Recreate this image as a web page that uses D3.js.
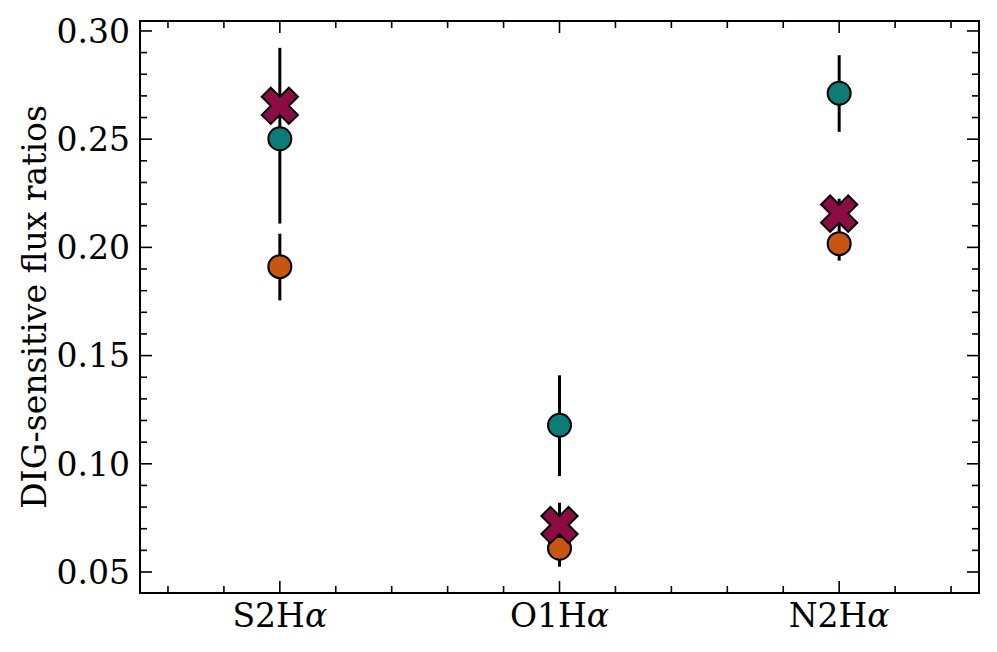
<!DOCTYPE html>
<html lang="en">
<head>
  <meta charset="UTF-8">
  <title>DIG-sensitive flux ratios</title>
  <script src="https://d3js.org/d3.v7.min.js"></script>
  <style>
    body { margin: 0; background: white; }
  </style>
</head>
<body>
  <div id="chart"></div>
  <script>
    // data
    const categories = ["S2", "O1", "N2"];

    const tealValues = [0.2502, 0.1178, 0.2712];
    const tealLow = [0.2110, 0.0943, 0.2534];
    const tealHigh = [0.2922, 0.1409, 0.2888];

    const orangeValues = [0.1911, 0.0610, 0.2017];
    const orangeLow = [0.1755, 0.0525, 0.1939];
    const orangeHigh = [0.2063, 0.0820, 0.2225];

    const crossValues = [0.2654, 0.0717, 0.2156];

    const yTicks = [0.05, 0.10, 0.15, 0.20, 0.25, 0.30];

    const width = 997;
    const height = 652;
    const margin = {top: 21, right: 18, bottom: 59, left: 140};

    const svg = d3.select("#chart")
      .append("svg")
      .attr("width", width)
      .attr("height", height);

    const x = d3.scaleLinear()
      .domain([-0.5, 2.5])
      .range([margin.left, width - margin.right]);

    const y = d3.scaleLinear()
      .domain([0.0403, 0.3046])
      .range([height - margin.bottom, margin.top]);

    const font = "DejaVu Serif, serif";
    const majorLen = 12, minorLen = 7;

    // ticks, pointing inward, on all four sides
    const yMinor = d3.range(5, 31).map(d => d / 100).filter(d => Math.round(d * 100) % 5 != 0);
    const xMinor = d3.range(-2, 13).map(d => d / 5).filter(d => Math.abs(d - Math.round(d)) > 1e-6);
    const xMajor = categories.map((c, i) => i);

    const ticks = svg.append("g").attr("stroke", "black").attr("stroke-width", 1.6);
    const x0 = x.range()[0], x1 = x.range()[1];
    const y0 = y.range()[0], y1 = y.range()[1];

    function yTick(v, len) {
      ticks.append("line").attr("x1", x0).attr("x2", x0 + len).attr("y1", y(v)).attr("y2", y(v));
      ticks.append("line").attr("x1", x1).attr("x2", x1 - len).attr("y1", y(v)).attr("y2", y(v));
    }
    function xTick(v, len) {
      ticks.append("line").attr("y1", y0).attr("y2", y0 - len).attr("x1", x(v)).attr("x2", x(v));
      ticks.append("line").attr("y1", y1).attr("y2", y1 + len).attr("x1", x(v)).attr("x2", x(v));
    }
    yTicks.forEach(v => yTick(v, majorLen));
    yMinor.forEach(v => yTick(v, minorLen));
    xMajor.forEach(v => xTick(v, majorLen));
    xMinor.forEach(v => xTick(v, minorLen));

    // tick labels
    svg.append("g")
      .selectAll("text")
      .data(yTicks)
      .enter()
      .append("text")
      .attr("x", x0 - 10)
      .attr("y", d => y(d))
      .attr("dy", "0.36em")
      .attr("text-anchor", "end")
      .style("font-family", font)
      .style("font-size", "33px")
      .text(d => d.toFixed(2));

    const xl = svg.append("g")
      .selectAll("text")
      .data(categories)
      .enter()
      .append("text")
      .attr("x", (d, i) => x(i))
      .attr("y", 627)
      .attr("text-anchor", "middle")
      .style("font-family", font)
      .style("font-size", "33px");
    xl.append("tspan").text(d => d + "H");
    xl.append("tspan").style("font-style", "italic").text("α");

    svg.append("text")
      .attr("transform", "translate(46," + ((y0 + y1) / 2) + ") rotate(-90)")
      .attr("text-anchor", "middle")
      .style("font-family", font)
      .style("font-size", "33px")
      .text("DIG-sensitive flux ratios");

    // error bars
    function errorBars(low, high) {
      svg.append("g")
        .selectAll("line")
        .data(categories)
        .enter()
        .append("line")
        .attr("x1", (d, i) => x(i))
        .attr("x2", (d, i) => x(i))
        .attr("y1", (d, i) => y(low[i]))
        .attr("y2", (d, i) => y(high[i]))
        .attr("stroke", "black")
        .attr("stroke-width", 3);
    }
    errorBars(tealLow, tealHigh);
    errorBars(orangeLow, orangeHigh);

    function dots(values, color) {
      svg.append("g")
        .selectAll("circle")
        .data(values)
        .enter()
        .append("circle")
        .attr("cx", (d, i) => x(i))
        .attr("cy", d => y(d))
        .attr("r", 11.5)
        .attr("fill", color)
        .attr("stroke", "black")
        .attr("stroke-width", 2);
    }
    dots(tealValues, "#0b7d78");
    dots(orangeValues, "#c9560f");

    svg.append("g")
      .selectAll("path")
      .data(crossValues)
      .enter()
      .append("path")
      .attr("d", d3.symbol().type(d3.symbolCross).size(820))
      .attr("transform", (d, i) => "translate(" + x(i) + "," + y(d) + ") rotate(45)")
      .attr("fill", "#8c0b42")
      .attr("stroke", "black")
      .attr("stroke-width", 2)
      .attr("stroke-linejoin", "miter");

    // frame
    svg.append("rect")
      .attr("x", x0)
      .attr("y", y1)
      .attr("width", x1 - x0)
      .attr("height", y0 - y1)
      .attr("fill", "none")
      .attr("stroke", "black")
      .attr("stroke-width", 2);
  </script>
</body>
</html>
